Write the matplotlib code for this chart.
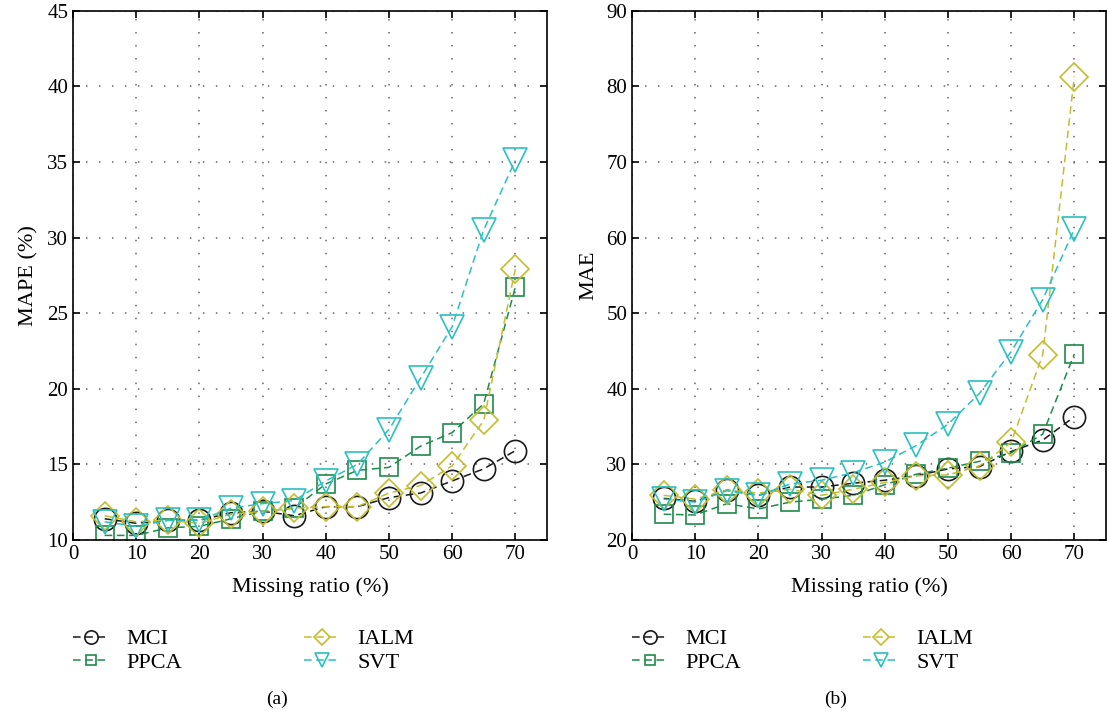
import numpy as np
import matplotlib.pyplot as plt

plt.rcParams['font.family'] = ['Liberation Serif', 'DejaVu Serif']

# Dados
ratio = [5, 10, 15, 20, 25, 30, 35, 40, 45, 50, 55, 60, 65, 70]

mape_mci = [11.4, 11.1, 11.3, 11.3, 11.8, 11.9, 11.6, 12.2, 12.2, 12.8, 13.1, 13.9, 14.7, 15.9]
mape_ppca = [10.3, 10.3, 10.8, 10.9, 11.4, 11.9, 12.1, 13.7, 14.6, 14.8, 16.2, 17.1, 19.0, 26.7]
mape_ialm = [11.6, 11.2, 11.3, 11.1, 11.7, 11.9, 12.1, 12.2, 12.2, 13.1, 13.6, 14.9, 17.9, 27.9]
mape_svt = [11.2, 10.9, 11.3, 11.3, 12.1, 12.4, 12.6, 13.9, 15.0, 17.3, 20.7, 24.1, 30.5, 35.1]

mae_mci = [25.5, 25.1, 26.6, 25.9, 27.0, 27.0, 27.5, 27.9, 28.5, 29.4, 29.7, 31.7, 33.2, 36.3]
mae_ppca = [23.4, 23.3, 24.8, 24.1, 25.0, 25.4, 25.9, 27.3, 28.7, 29.5, 30.4, 31.5, 34.0, 44.6]
mae_ialm = [25.9, 25.4, 26.6, 26.2, 26.7, 25.9, 26.7, 27.6, 28.5, 28.6, 29.8, 32.9, 44.5, 81.3]
mae_svt = [25.4, 25.0, 26.5, 25.9, 27.4, 27.9, 28.9, 30.3, 32.5, 35.3, 39.4, 44.9, 51.8, 61.1]

methods = ['MCI', 'PPCA', 'IALM', 'SVT']
markers = ['o', 's', 'D', 'v']
colors = ['#1a1a1a', '#1e8a4c', '#c2be2e', '#2bbfbf']
msizes = [16, 13, 14, 17]

fig = plt.figure(figsize=(11.07, 7.18), dpi=100)
ax1 = fig.add_axes([0.066, 0.248, 0.428, 0.737])
ax2 = fig.add_axes([0.571, 0.248, 0.428, 0.737])

panels = [
    (ax1, [mape_mci, mape_ppca, mape_ialm, mape_svt], 'MAPE (%)', (10, 45), 5, '(a)'),
    (ax2, [mae_mci, mae_ppca, mae_ialm, mae_svt], 'MAE', (20, 90), 10, '(b)'),
]

for ax, series, ylabel, ylim, step, tag in panels:
    for vals, name, m, c, ms in zip(series, methods, markers, colors, msizes):
        ax.plot(ratio, vals, linestyle='--', dashes=(5, 3), color=c, lw=1.1,
                marker=m, markersize=ms, markerfacecolor='none',
                markeredgecolor=c, markeredgewidth=1.2, label=name)
    ax.set_xlim(0, 75)
    ax.set_ylim(*ylim)
    ax.set_xticks(range(0, 71, 10))
    ax.set_yticks(np.arange(ylim[0], ylim[1] + 1, step))
    ax.grid(True, linestyle=(0, (1, 7.5)), color='#666666', lw=1.1)
    ax.tick_params(direction='in', top=True, right=True, labelsize=15, length=5, width=1.2)
    for s in ax.spines.values():
        s.set_linewidth(1.2)
    ax.set_xlabel('Missing ratio (%)', fontsize=16, labelpad=10)
    ax.set_ylabel(ylabel, fontsize=16, labelpad=6)
    ax.legend(loc='upper center', bbox_to_anchor=(0.36, -0.13), ncol=2,
              frameon=False, fontsize=16, markerscale=0.6, handlelength=1.6,
              columnspacing=5.5, labelspacing=0.15, handletextpad=0.8)
    ax.text(0.43, -0.285, tag, transform=ax.transAxes, ha='center', va='top', fontsize=14)

plt.savefig('out.png', dpi=100)
